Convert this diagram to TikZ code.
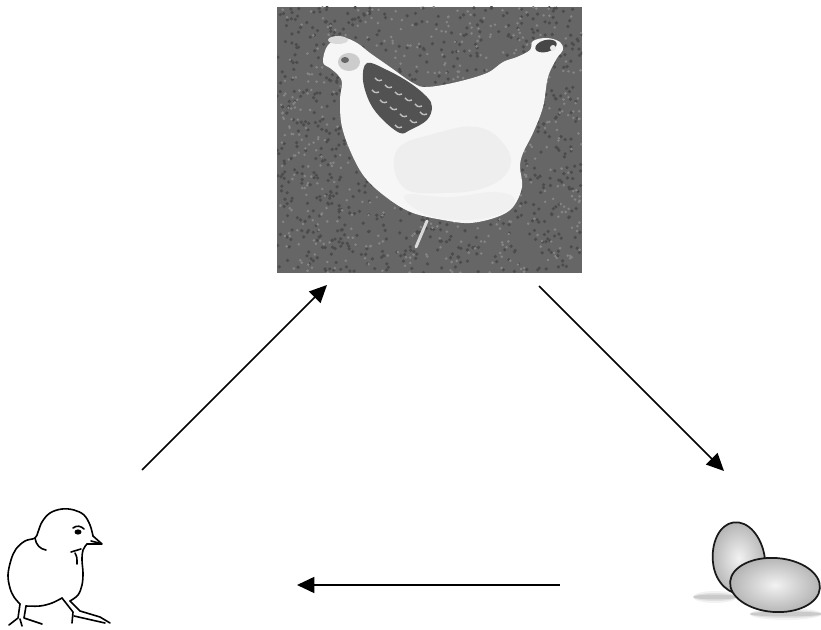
\documentclass[tikz,border=0pt]{standalone}
\usetikzlibrary{arrows.meta}
\tikzset{every picture/.style={line width=0.75pt}}
\begin{document}
\begin{tikzpicture}[x=0.75pt,y=0.75pt,yscale=-1,xscale=1,
	cyclearrow/.style={line width=1.3, -{Triangle[length=13pt,width=12pt]}},
	chickline/.style={line width=1.2, line cap=round, line join=round},
	eggshell/.style={line width=1.3, draw=black!90, inner color=gray!10, outer color=gray!60}]
	\useasboundingbox (0,0) rectangle (821,630);
	
	%Shape: Photo of the hen
	\fill [black!60] (277,7) rectangle (582,273);
	\begin{scope}
		\clip (277,7) rectangle (582,273);
		\pgfmathsetseed{4242}
		\foreach \i in {1,...,900}{
			\pgfmathsetmacro{\gx}{277+305*rnd}
			\pgfmathsetmacro{\gy}{7+266*rnd}
			\fill [black!70] (\gx,\gy) circle (1.8);
		}
		\foreach \i in {1,...,600}{
			\pgfmathsetmacro{\gx}{277+305*rnd}
			\pgfmathsetmacro{\gy}{7+266*rnd}
			\fill [black!48] (\gx,\gy) circle (1.4);
		}
	\end{scope}
	%Leg
	\draw [gray!30, line width=2.2, line cap=round] (427,221) -- (416,247) ;
	%Body
	\fill [gray!7] plot [smooth cycle, tension=0.6] coordinates {(323,62) (328,45) (343,38) (357,43) (370,53) (390,67) (413,83) (427,87) (457,82) (487,73) (503,62) (517,57) (530,50) (533,41) (547,38) (560,42) (563,50) (557,58) (548,77) (543,107) (533,133) (523,153) (520,167) (522,187) (513,207) (497,217) (470,223) (443,220) (413,213) (390,200) (367,180) (353,157) (342,127) (340,100) (342,83) (338,75) (330,68)};
	%Wing
	\fill [gray!13] plot [smooth cycle, tension=0.7] coordinates {(397,150) (437,133) (477,127) (503,143) (510,167) (487,187) (443,193) (403,187)};
	\fill [gray!12] plot [smooth cycle, tension=0.7] coordinates {(405,195) (450,197) (495,192) (515,200) (500,214) (465,220) (425,214)};
	%Hackle
	\fill [black!68] plot [smooth cycle, tension=0.6] coordinates {(367,63) (387,70) (410,83) (427,97) (432,107) (427,120) (410,130) (400,133) (383,120) (370,103) (363,80)};
	\foreach \hx/\hy in {375/78,385/85,395/92,405/98,415/104,380/100,390/107,400/114,410/120,420/112,372/90,395/125}{
		\draw [gray!50, line width=1.1] (\hx,\hy) .. controls (\hx+3,\hy+3) .. (\hx+7,\hy+2) ;
	}
	%Head
	\fill [gray!40] (349,62) ellipse [x radius=11, y radius=9];
	\fill [black!60] (345,60) ellipse [x radius=4, y radius=3];
	\fill [gray!30] (338,40) ellipse [x radius=10, y radius=4];
	%Tail tip
	\fill [black!72, rotate around={-15:(546,46)}] (546,46) ellipse [x radius=11, y radius=6];
	\fill [gray!15] (553,48) circle (3);
	
	%Chick
	\draw [chickline] plot [smooth, tension=0.6] coordinates {(93,536) (90,525) (84,515) (74,510) (62,509) (50,513) (42,522) (38,532) (35,538) (25,541) (16,549) (11,560) (8,575) (10,588) (14,597) (20,604)};
	\draw [chickline] plot [smooth, tension=0.6] coordinates {(87,544) (83,550) (82,560) (83,573) (82,585) (78,595) (70,601)};
	\draw [chickline] plot [smooth, tension=0.6] coordinates {(26,606) (40,606) (52,603) (62,598)};
	\draw [chickline] (93,536) -- (102,544) -- (87,544) ;
	\draw [chickline] (91,541) -- (99,543) ;
	\fill (78,532) ellipse [x radius=3.5, y radius=2.6];
	\draw [chickline] (73,528) .. controls (77,525) and (81,526) .. (84,529) ;
	\draw [chickline] (35,538) .. controls (36,545) and (40,549) .. (46,550) ;
	\draw [chickline] (71,552) -- (81,549) ;
	\draw [chickline] (75,553) .. controls (77,557) .. (77,564) ;
	%Chick legs
	\draw [chickline] (20,604) -- (18,618) -- (9,625) ;
	\draw [chickline] (26,606) -- (24,618) -- (42,624) ;
	\draw [chickline] (20,619) -- (22,626) ;
	\draw [chickline] (62,598) -- (73,612) -- (72,623) ;
	\draw [chickline] (70,601) -- (80,611) -- (100,617) -- (110,623) ;
	\draw [chickline] (74,616) -- (105,623) ;
	
	%Eggs
	\foreach \op/\ry in {0.05/6,0.07/4,0.1/2.5}{
		\fill [black, opacity=\op] (715,597) ellipse [x radius=22, y radius=\ry];
		\fill [black, opacity=\op] (786,614) ellipse [x radius=36, y radius=\ry];
	}
	\begin{scope}[shift={(739,561)}, rotate=-8]
		\draw [eggshell] (-26,0) arc [start angle=180, end angle=360, x radius=26, y radius=39] arc [start angle=0, end angle=180, x radius=26, y radius=33] -- cycle ;
	\end{scope}
	\draw [eggshell, rotate around={4:(775,585)}] (775,585) ellipse [x radius=45, y radius=27] ;
	
	%Arrows
	\coordinate (chickOut) at (142,470);
	\coordinate (henIn) at (327,285);
	\coordinate (henOut) at (539,286);
	\coordinate (eggIn) at (724,471);
	\coordinate (eggOut) at (560,585);
	\coordinate (chickIn) at (297,585);
	\draw [cyclearrow] (chickOut) -- (henIn) ;
	\draw [cyclearrow] (henOut) -- (eggIn) ;
	\draw [cyclearrow] (eggOut) -- (chickIn) ;
\end{tikzpicture}
\end{document}
